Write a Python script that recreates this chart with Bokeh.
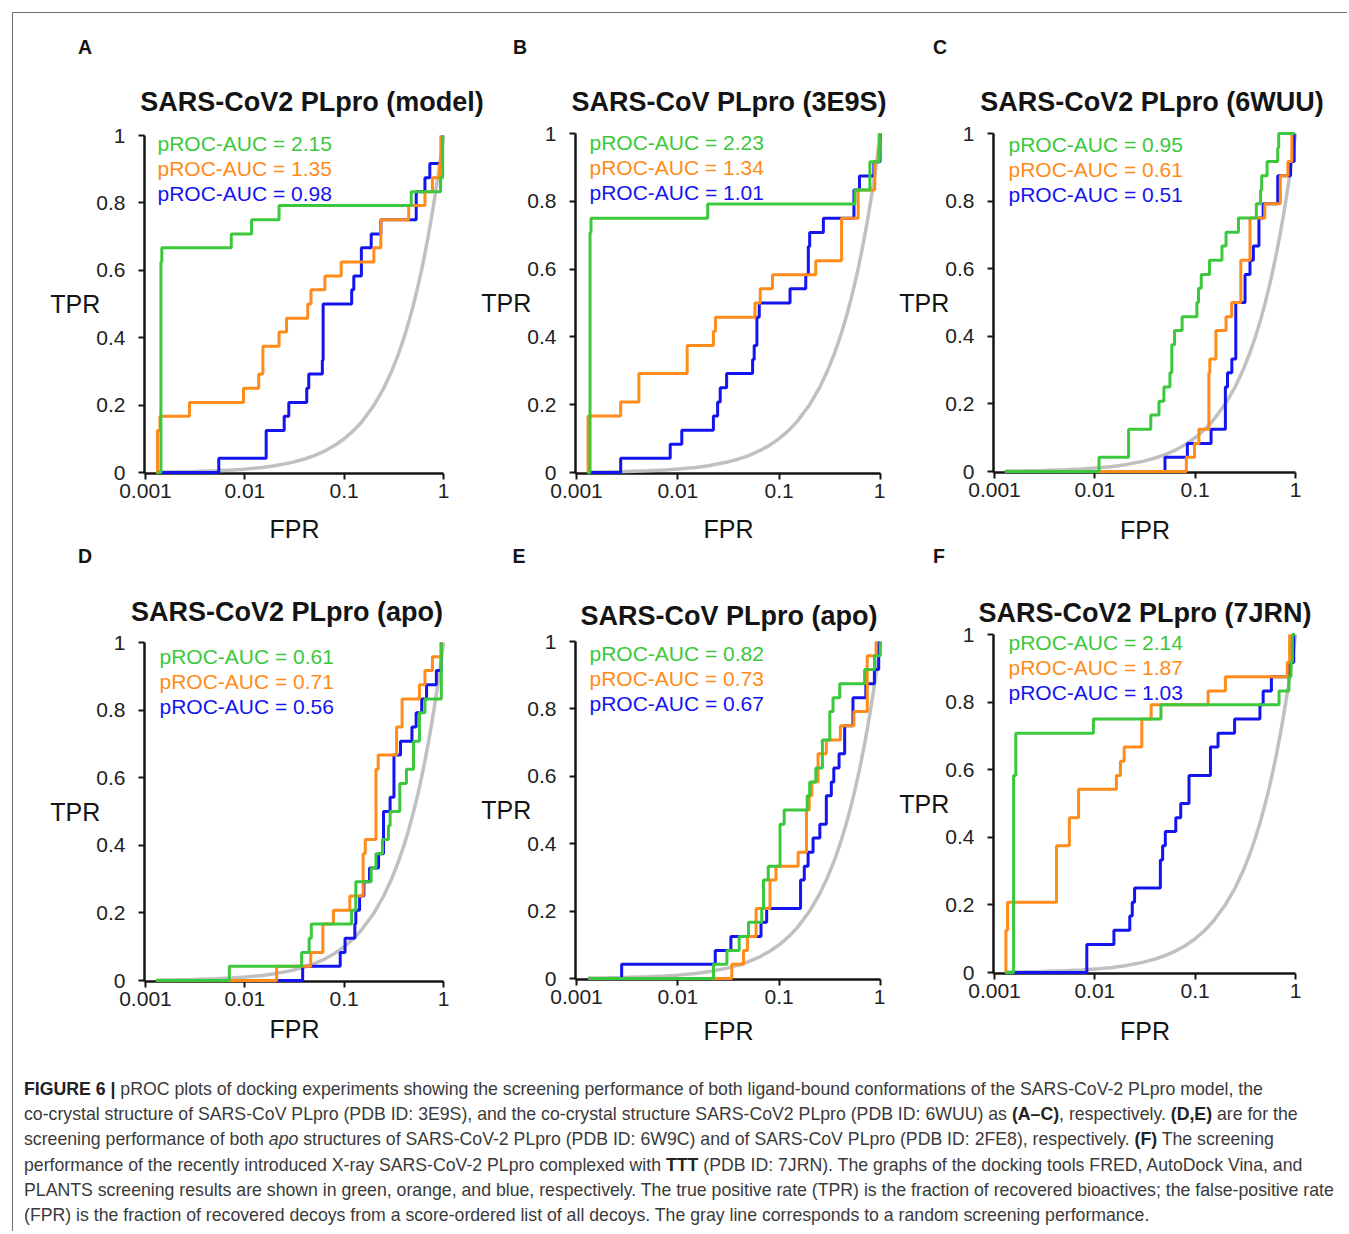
from bokeh.plotting import figure
from bokeh.models import Range1d, Label, FixedTicker, CustomJSTickFormatter, Div
from bokeh.layouts import row, column
from bokeh.embed import file_html
from bokeh.resources import INLINE

# ---------------- data ----------------
fpr_ticks = [0.001, 0.01, 0.1, 1]
tpr_ticks = [0, 0.2, 0.4, 0.6, 0.8, 1]

panel_letters = ["A", "B", "C", "D", "E", "F"]
titles = ["SARS-CoV2 PLpro (model)", "SARS-CoV PLpro (3E9S)", "SARS-CoV2 PLpro (6WUU)",
          "SARS-CoV2 PLpro (apo)", "SARS-CoV PLpro (apo)", "SARS-CoV2 PLpro (7JRN)"]
auc_fred = [2.15, 2.23, 0.95, 0.61, 0.82, 2.14]
auc_vina = [1.35, 1.34, 0.61, 0.71, 0.73, 1.87]
auc_plants = [0.98, 1.01, 0.51, 0.56, 0.67, 1.03]

# random screening performance (gray line)
random_fpr = [0.0013, 0.002, 0.003, 0.005, 0.0075, 0.01, 0.015, 0.02, 0.03, 0.04, 0.05, 0.065,
              0.08, 0.1, 0.125, 0.15, 0.2, 0.25, 0.3, 0.35, 0.4, 0.45, 0.5, 0.55, 0.6, 0.65,
              0.7, 0.75, 0.8, 0.85, 0.9, 0.95, 1.0]
random_tpr = [0.0013, 0.002, 0.003, 0.005, 0.0075, 0.01, 0.015, 0.02, 0.03, 0.04, 0.05, 0.065,
              0.08, 0.1, 0.125, 0.15, 0.2, 0.25, 0.3, 0.35, 0.4, 0.45, 0.5, 0.55, 0.6, 0.65,
              0.7, 0.75, 0.8, 0.85, 0.9, 0.95, 1.0]

# Panel A
a_fred_fpr = [0.0013, 0.00143, 0.00146, 0.0073, 0.0117, 0.0221, 0.473, 0.934, 0.98]
a_fred_tpr = [0, 0.625, 0.667, 0.708, 0.75, 0.792, 0.833, 0.875, 1.0]
a_vina_fpr = [0.00128, 0.00132, 0.0014, 0.00277, 0.0097, 0.0138, 0.0152, 0.0221, 0.0263, 0.043,
              0.0463, 0.064, 0.0933, 0.199, 0.234, 0.446, 0.65, 0.773, 0.913, 0.94]
a_vina_tpr = [0, 0.125, 0.167, 0.208, 0.25, 0.292, 0.375, 0.417, 0.458, 0.5,
              0.542, 0.583, 0.625, 0.667, 0.75, 0.792, 0.833, 0.875, 0.917, 1.0]
a_plants_fpr = [0.0013, 0.00547, 0.0164, 0.0249, 0.0277, 0.042, 0.044, 0.0603, 0.0614, 0.119,
                0.125, 0.149, 0.187, 0.234, 0.531, 0.65, 0.728, 0.97]
a_plants_tpr = [0, 0.042, 0.125, 0.167, 0.208, 0.25, 0.292, 0.333, 0.5, 0.542,
                0.583, 0.667, 0.708, 0.75, 0.833, 0.875, 0.917, 1.0]

# Panel B
b_fred_fpr = [0.0013, 0.00136, 0.00139, 0.0197, 0.56, 0.785, 0.975]
b_fred_tpr = [0, 0.708, 0.75, 0.792, 0.833, 0.917, 1.0]
b_vina_fpr = [0.00128, 0.0013, 0.00273, 0.00413, 0.01236, 0.02244, 0.0235, 0.0577, 0.065, 0.0859,
              0.2296, 0.413, 0.602, 0.878, 0.95, 0.97]
b_vina_tpr = [0, 0.167, 0.208, 0.292, 0.375, 0.417, 0.458, 0.5, 0.542, 0.583,
              0.625, 0.75, 0.833, 0.917, 0.958, 1.0]
b_plants_fpr = [0.0013, 0.00273, 0.00841, 0.01094, 0.02244, 0.0247, 0.0262, 0.0303, 0.0547, 0.0567,
                0.0603, 0.0636, 0.128, 0.183, 0.194, 0.2, 0.273, 0.547, 0.62, 0.86, 0.99]
b_plants_tpr = [0, 0.042, 0.083, 0.125, 0.167, 0.208, 0.25, 0.292, 0.333, 0.375,
                0.458, 0.5, 0.542, 0.583, 0.667, 0.708, 0.75, 0.833, 0.875, 0.917, 1.0]

# Panel C
c_fred_fpr = [0.00127, 0.011, 0.0217, 0.0361, 0.0436, 0.0488, 0.056, 0.0585, 0.0623, 0.0741,
              0.104, 0.108, 0.115, 0.139, 0.185, 0.203, 0.27, 0.407, 0.449, 0.46,
              0.521, 0.665, 0.68, 0.98]
c_fred_tpr = [0, 0.042, 0.125, 0.167, 0.208, 0.25, 0.292, 0.375, 0.417, 0.458,
              0.5, 0.542, 0.583, 0.625, 0.667, 0.708, 0.75, 0.792, 0.833, 0.875,
              0.917, 0.958, 1.0, 1.0]
c_vina_fpr = [0.00127, 0.0816, 0.0986, 0.109, 0.137, 0.14, 0.161, 0.203, 0.231, 0.285,
              0.352, 0.494, 0.706, 0.84, 0.92]
c_vina_tpr = [0, 0.042, 0.083, 0.125, 0.292, 0.333, 0.417, 0.458, 0.5, 0.625,
              0.75, 0.792, 0.875, 0.917, 1.0]
c_plants_fpr = [0.00127, 0.05, 0.0836, 0.144, 0.2, 0.21, 0.232, 0.254, 0.314, 0.352,
                0.38, 0.432, 0.476, 0.665, 0.893, 0.97]
c_plants_tpr = [0, 0.042, 0.083, 0.125, 0.25, 0.292, 0.333, 0.5, 0.583, 0.625,
                0.667, 0.75, 0.792, 0.875, 0.917, 1.0]

# Panel D
d_fred_fpr = [0.00128, 0.00698, 0.0373, 0.0444, 0.0467, 0.1186, 0.131, 0.187, 0.209, 0.243,
              0.279, 0.29, 0.363, 0.423, 0.499, 0.572, 0.65, 0.95]
d_fred_tpr = [0, 0.042, 0.083, 0.125, 0.167, 0.208, 0.292, 0.333, 0.375, 0.417,
              0.458, 0.5, 0.583, 0.625, 0.708, 0.792, 0.833, 1.0]
d_vina_fpr = [0.00128, 0.0209, 0.0461, 0.061, 0.078, 0.114, 0.155, 0.163, 0.209, 0.22,
              0.337, 0.383, 0.572, 0.65, 0.773, 0.95]
d_vina_tpr = [0, 0.042, 0.083, 0.167, 0.208, 0.25, 0.375, 0.417, 0.625, 0.667,
              0.75, 0.833, 0.875, 0.917, 0.958, 1.0]
d_plants_fpr = [0.00128, 0.0382, 0.0912, 0.102, 0.128, 0.131, 0.143, 0.158, 0.18, 0.222,
                0.249, 0.29, 0.317, 0.369, 0.481, 0.53, 0.603, 0.675, 0.847, 0.95]
d_plants_tpr = [0, 0.042, 0.083, 0.125, 0.167, 0.208, 0.25, 0.292, 0.333, 0.375,
                0.5, 0.542, 0.667, 0.708, 0.75, 0.792, 0.833, 0.875, 0.917, 1.0]

# Panel E
e_fred_fpr = [0.00132, 0.0225, 0.0305, 0.0403, 0.0498, 0.0673, 0.07, 0.078, 0.102, 0.112,
              0.189, 0.2, 0.23, 0.267, 0.316, 0.34, 0.396, 0.697, 0.873, 0.995]
e_fred_tpr = [0, 0.042, 0.083, 0.125, 0.167, 0.208, 0.292, 0.333, 0.458, 0.5,
              0.542, 0.583, 0.625, 0.708, 0.792, 0.833, 0.875, 0.917, 0.958, 1.0]
e_vina_fpr = [0.00132, 0.0341, 0.0444, 0.0486, 0.0592, 0.0812, 0.093, 0.154, 0.186, 0.198,
              0.21, 0.242, 0.292, 0.402, 0.547, 0.74, 0.905]
e_vina_tpr = [0, 0.042, 0.083, 0.125, 0.208, 0.292, 0.333, 0.375, 0.5, 0.542,
              0.583, 0.667, 0.708, 0.75, 0.792, 0.958, 1.0]
e_plants_fpr = [0.00132, 0.00279, 0.0234, 0.0334, 0.0662, 0.0753, 0.1626, 0.177, 0.193, 0.216,
                0.252, 0.292, 0.327, 0.346, 0.39, 0.443, 0.535, 0.717, 0.87, 0.96]
e_plants_tpr = [0, 0.042, 0.083, 0.125, 0.167, 0.208, 0.292, 0.333, 0.375, 0.417,
                0.458, 0.542, 0.583, 0.625, 0.667, 0.75, 0.833, 0.875, 0.917, 1.0]

# Panel F
f_fred_fpr = [0.0013, 0.00155, 0.00163, 0.00968, 0.0456, 0.685, 0.859, 0.9, 0.93, 0.985]
f_fred_tpr = [0, 0.583, 0.708, 0.75, 0.792, 0.833, 0.875, 0.917, 1.0, 1.0]
f_vina_fpr = [0.00128, 0.0013, 0.00135, 0.00415, 0.00557, 0.00689, 0.0164, 0.018, 0.0196, 0.0294,
              0.0364, 0.1346, 0.2, 0.828, 0.873]
f_vina_tpr = [0, 0.125, 0.208, 0.375, 0.458, 0.542, 0.583, 0.625, 0.667, 0.75,
              0.792, 0.833, 0.875, 0.917, 1.0]
f_plants_fpr = [0.0013, 0.00832, 0.0155, 0.0223, 0.0236, 0.0249, 0.045, 0.0474, 0.0504, 0.0641,
                0.0718, 0.0868, 0.142, 0.169, 0.247, 0.442, 0.476, 0.575, 0.86, 0.96]
f_plants_tpr = [0, 0.083, 0.125, 0.167, 0.208, 0.25, 0.333, 0.375, 0.417, 0.458,
                0.5, 0.583, 0.667, 0.708, 0.75, 0.792, 0.833, 0.875, 0.917, 1.0]

curves = [
    ((a_fred_fpr, a_fred_tpr), (a_vina_fpr, a_vina_tpr), (a_plants_fpr, a_plants_tpr)),
    ((b_fred_fpr, b_fred_tpr), (b_vina_fpr, b_vina_tpr), (b_plants_fpr, b_plants_tpr)),
    ((c_fred_fpr, c_fred_tpr), (c_vina_fpr, c_vina_tpr), (c_plants_fpr, c_plants_tpr)),
    ((d_fred_fpr, d_fred_tpr), (d_vina_fpr, d_vina_tpr), (d_plants_fpr, d_plants_tpr)),
    ((e_fred_fpr, e_fred_tpr), (e_vina_fpr, e_vina_tpr), (e_plants_fpr, e_plants_tpr)),
    ((f_fred_fpr, f_fred_tpr), (f_vina_fpr, f_vina_tpr), (f_plants_fpr, f_plants_tpr)),
]

# ---------------- layout (page pixels) ----------------
COLS = [(13, 452), (465, 420), (885, 452)]        # column left, width
ROWS = [(13, 549), (549, 1050)]                   # band top, bottom
# axes: (left, top, right, bottom) of the 0.001..1 x 0..1 box; split: header/figure boundary
# fpr_gap: distance from x-axis to centre of the FPR label
LAYOUT = [
    dict(axes=(145, 135, 450, 472), split=121, letter=(85, 48), title=(312, 101.5), auc=(157, 143), fpr_gap=58),
    dict(axes=(576, 133, 880, 472), split=121, letter=(520, 48), title=(729, 102), auc=(589, 142), fpr_gap=57),
    dict(axes=(994, 133, 1298, 471), split=121, letter=(940, 48), title=(1152, 102), auc=(1008, 143.6), fpr_gap=59),
    dict(axes=(138, 642, 443, 980), split=630, letter=(85, 556.5), title=(287, 612), auc=(152, 655.7), fpr_gap=49),
    dict(axes=(575, 641, 880, 978), split=629, letter=(519, 556.5), title=(729, 616), auc=(588, 653.3), fpr_gap=54),
    dict(axes=(990, 634, 1295, 972), split=622, letter=(939, 556.5), title=(1145, 613), auc=(1004, 642.3), fpr_gap=59),
]
PAD = 1
FONT = "Liberation Sans"
C_FRED, C_VINA, C_PLANTS, C_RANDOM = "#3CC83C", "#FF8C1A", "#1414F0", "#C0C0C0"
INK = "#141414"


def step_xy(f, t):
    xs, ys = [f[0]], [t[0]]
    for i in range(1, len(f)):
        xs += [f[i], f[i]]
        ys += [t[i - 1], t[i]]
    return xs, ys


def header(i):
    L = LAYOUT[i]
    cl, cw = COLS[i % 3]
    top = ROWS[i // 3][0]
    h = L["split"] - top
    span = ('<span style="position:absolute;left:%.1fpx;top:%.1fpx;transform:translate(-50%%,-50%%);'
            'font-size:%s;font-weight:bold;line-height:1;white-space:nowrap;">%s</span>')
    html = ('<div style="position:relative;overflow:visible;width:%dpx;height:%dpx;'
            'font-family:\'Liberation Sans\',Arial,sans-serif;color:%s;">' % (cw, h, INK))
    html += span % (L["letter"][0] - cl, L["letter"][1] - top, "19.5px", panel_letters[i])
    html += span % (L["title"][0] - cl, L["title"][1] - top, "27px", titles[i])
    html += '</div>'
    return Div(text=html, width=cw, height=h, margin=0, styles={"overflow": "visible"})


def make_panel(i):
    L = LAYOUT[i]
    fl, fw = COLS[i % 3]
    ft = L["split"]
    fh = ROWS[i // 3][1] - ft
    al, at, ar, ab = L["axes"]
    W, H = ar - al, ab - at
    frl, frt, frr, frb = al - PAD, at - PAD, ar + PAD, ab + PAD
    dec = 3.0 * PAD / W
    x0, x1 = 10 ** (-3 - dec), 10 ** dec
    y0, y1 = -PAD / H, 1 + PAD / H
    p = figure(width=fw, height=fh, x_axis_type="log",
               x_range=Range1d(x0, x1), y_range=Range1d(y0, y1),
               output_backend="svg", toolbar_location=None, tools="",
               min_border_left=frl - fl, min_border_right=fl + fw - frr,
               min_border_top=frt - ft, min_border_bottom=ft + fh - frb, margin=0)
    p.title.text = ""
    p.outline_line_color = None
    p.background_fill_color = "white"
    p.border_fill_color = None
    p.xgrid.visible = False
    p.ygrid.visible = False

    for ax in (p.xaxis[0], p.yaxis[0]):
        ax.axis_line_width = 2.5
        ax.axis_line_color = INK
        ax.major_tick_line_color = INK
        ax.major_tick_line_width = 2
        ax.major_tick_in = 0
        ax.minor_tick_in = 0
        ax.minor_tick_out = 0
        ax.major_label_text_font = FONT
        ax.major_label_text_font_size = "21px"
        ax.major_label_text_color = "#222222"
        ax.axis_label_text_font = FONT
        ax.axis_label_text_font_size = "25px"
        ax.axis_label_text_font_style = "normal"
        ax.axis_label_text_color = INK
    xa, ya = p.xaxis[0], p.yaxis[0]
    xa.ticker = FixedTicker(ticks=fpr_ticks)
    xa.formatter = CustomJSTickFormatter(code="return String(tick);")
    xa.bounds = (x0, fpr_ticks[-1])
    xa.major_tick_out = 6
    xa.major_label_standoff = 4
    xa.axis_label = "FPR"
    xa.axis_label_standoff = int(round(5.5 + L["fpr_gap"] - 49))
    ya.ticker = FixedTicker(ticks=tpr_ticks)
    ya.formatter = CustomJSTickFormatter(code="return String(Math.round(tick*10)/10);")
    ya.bounds = (y0, tpr_ticks[-1])
    ya.major_tick_out = 6
    ya.major_label_standoff = 13
    ya.axis_label = "TPR"
    ya.axis_label_orientation = "horizontal"
    ya.axis_label_standoff = -7

    r = p.line(random_fpr, random_tpr, line_color=C_RANDOM, line_width=3.5)
    r.level = "annotation"
    (ff, ft_), (vf, vt), (pf, pt) = curves[i]
    for (fx, ty), col in (((pf, pt), C_PLANTS), ((vf, vt), C_VINA), ((ff, ft_), C_FRED)):
        xs, ys = step_xy(fx, ty)
        r = p.line(xs, ys, line_color=col, line_width=3)
        r.level = "annotation"

    ax0, ay0 = L["auc"]
    for k, (v, col) in enumerate(((auc_fred[i], C_FRED), (auc_vina[i], C_VINA), (auc_plants[i], C_PLANTS))):
        p.add_layout(Label(x=ax0 - frl, y=frb - (ay0 + 25 * k), x_units="screen", y_units="screen",
                           text="pROC-AUC = %.2f" % v, text_font=FONT, text_font_size="21px",
                           text_align="left", text_baseline="middle", text_color=col))
    return p


cols = []
for c in range(3):
    items = []
    for i in (c, c + 3):
        items += [header(i), make_panel(i)]
    cols.append(column(*items, margin=0))

caption_html = (
    '<div style="font-family:\'Liberation Sans\',Arial,sans-serif;font-size:17.7px;line-height:25.2px;'
    'color:#3a3a3a;padding:27px 0 0 11px;white-space:nowrap;">'
    '<b style="color:#222">FIGURE 6 |</b> pROC plots of docking experiments showing the screening performance of both '
    'ligand-bound conformations of the SARS-CoV-2 PLpro model, the<br>'
    'co-crystal structure of SARS-CoV PLpro (PDB ID: 3E9S), and the co-crystal structure SARS-CoV2 PLpro '
    '(PDB ID: 6WUU) as <b style="color:#222">(A–C)</b>, respectively. <b style="color:#222">(D,E)</b> are for the<br>'
    'screening performance of both <i>apo</i> structures of SARS-CoV-2 PLpro (PDB ID: 6W9C) and of SARS-CoV PLpro '
    '(PDB ID: 2FE8), respectively. <b style="color:#222">(F)</b> The screening<br>'
    'performance of the recently introduced X-ray SARS-CoV-2 PLpro complexed with <b style="color:#222">TTT</b> '
    '(PDB ID: 7JRN). The graphs of the docking tools FRED, AutoDock Vina, and<br>'
    'PLANTS screening results are shown in green, orange, and blue, respectively. The true positive rate (TPR) '
    'is the fraction of recovered bioactives; the false-positive rate<br>'
    '(FPR) is the fraction of recovered decoys from a score-ordered list of all decoys. The gray line corresponds '
    'to a random screening performance.</div>'
)
caption = Div(text=caption_html, width=1334, height=181, margin=0)

page = column(row(*cols, margin=0), caption, margin=(12, 0, 0, 12),
              styles={"border-top": "1px solid #707070", "border-left": "1px solid #707070"})

open("out.html", "w").write(file_html(page, INLINE, title="Figure 6"))
